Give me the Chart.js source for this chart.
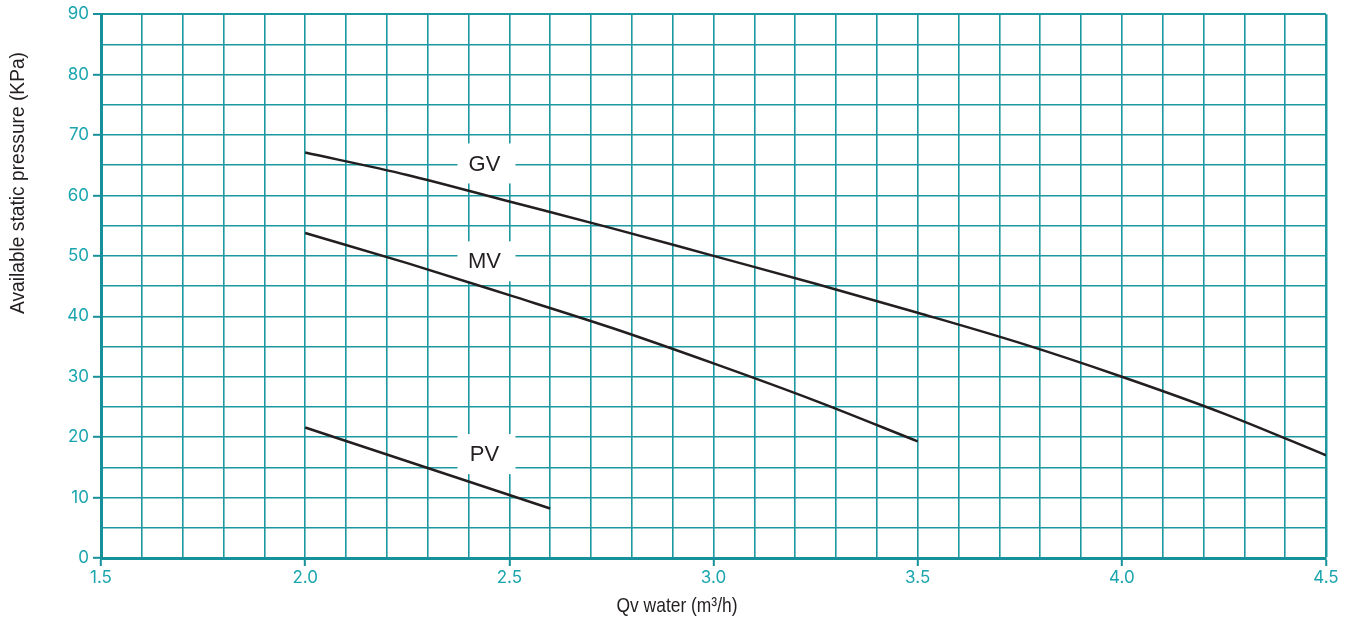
<!DOCTYPE html>
<html>
<head>
<meta charset="utf-8">
<script src="https://cdn.jsdelivr.net/npm/chart.js@4.4.1/dist/chart.umd.min.js"></script>
<style>
    html, body { margin: 0; padding: 0; background: #fff; }
    #wrap { width: 1358px; height: 622px; }
</style>
</head>
<body>
<div id="wrap"><canvas id="pump-chart"></canvas></div>
<script>
// flow (m3/h) and available static pressure (kPa)
const gvFlow = [2.0, 2.25, 2.5, 2.75, 3.0, 3.25, 3.5, 3.75, 4.0, 4.25, 4.5];
const gvPressure = [67.1, 63.4, 59.0, 54.6, 50.0, 45.4, 40.6, 35.6, 30.0, 23.9, 17.0];
const mvFlow = [2.0, 2.25, 2.5, 2.75, 3.0, 3.25, 3.5];
const mvPressure = [53.8, 48.8, 43.5, 38.1, 32.2, 26.0, 19.3];
const pvFlow = [2.0, 2.3, 2.6];
const pvPressure = [21.6, 14.9, 8.2];

const curveNames = ['GV', 'MV', 'PV'];
const nameFlow = [2.444, 2.444, 2.444];
const namePressure = [65.3, 49.1, 17.2];

const xTitle = 'Qv water (m\u00b3/h)';
const yTitle = 'Available static pressure (KPa)';

const gridColor = '#1b98a0';
const axisColor = '#16909a';
const tickText = '#1aa5ae';
const curveColor = '#231f20';

function toPoints(xs, ys) {
    return xs.map((x, i) => ({ x: x, y: ys[i] }));
}

function isMajor(v, step) {
    const r = v / step;
    return Math.abs(r - Math.round(r)) < 1e-6;
}

const curveLabels = {
    id: 'curveLabels',
    beforeDatasetsDraw(chart) {
        const ctx = chart.ctx;
        const xs = chart.scales.x, ys = chart.scales.y;
        ctx.save();
        ctx.font = '22px "Liberation Sans", Arial, sans-serif';
        ctx.textAlign = 'center';
        ctx.textBaseline = 'middle';
        curveNames.forEach((name, i) => {
            const px = xs.getPixelForValue(nameFlow[i]);
            const py = ys.getPixelForValue(namePressure[i]);
            ctx.fillStyle = '#fff';
            ctx.fillRect(px - 29, py - 20, 58, 40);
            ctx.fillStyle = curveColor;
            ctx.fillText(name, px - 2, py + 1);
        });
        ctx.restore();
    }
};

// condensed look: squeeze the text to the width it has in the original
function narrowText(ctx, text, cx, cy, width) {
    const w = ctx.measureText(text).width;
    ctx.save();
    ctx.translate(cx, cy);
    ctx.scale(width / w, 1);
    ctx.fillText(text, 0, 0);
    ctx.restore();
}

const axisTitles = {
    id: 'axisTitles',
    afterDraw(chart) {
        const ctx = chart.ctx;
        ctx.save();
        ctx.fillStyle = curveColor;
        ctx.font = '21px "Liberation Sans", Arial, sans-serif';
        ctx.textAlign = 'center';
        ctx.textBaseline = 'middle';
        narrowText(ctx, xTitle, 677, 606, 121);
        ctx.translate(18, 183);
        ctx.rotate(-Math.PI / 2);
        narrowText(ctx, yTitle, 0, 0, 262);
        ctx.restore();
    }
};

new Chart(document.getElementById('pump-chart'), {
    type: 'line',
    data: {
        datasets: [
            { label: 'GV', data: toPoints(gvFlow, gvPressure) },
            { label: 'MV', data: toPoints(mvFlow, mvPressure) },
            { label: 'PV', data: toPoints(pvFlow, pvPressure) }
        ]
    },
    options: {
        responsive: true,
        maintainAspectRatio: false,
        animation: false,
        layout: { padding: { left: 0, right: 32, top: 14, bottom: 0 } },
        elements: {
            line: { borderColor: curveColor, borderWidth: 2.5, cubicInterpolationMode: 'monotone', fill: false },
            point: { radius: 0, hoverRadius: 0 }
        },
        plugins: {
            legend: { display: false },
            tooltip: { enabled: false }
        },
        scales: {
            x: {
                type: 'linear',
                min: 1.5,
                max: 4.5,
                afterFit: (scale) => { scale.height = 64; },
                border: { color: axisColor, width: 3 },
                grid: {
                    color: gridColor,
                    lineWidth: (c) => (c.tick && c.tick.value > 4.45) ? 2.5 : 1.6,
                    tickLength: 8,
                    tickWidth: 2,
                    tickColor: (c) => (c.tick && isMajor(c.tick.value, 0.5)) ? axisColor : 'rgba(0,0,0,0)'
                },
                ticks: {
                    stepSize: 0.1,
                    autoSkip: false,
                    maxRotation: 0,
                    padding: 2,
                    color: tickText,
                    font: { family: 'Inter, "Liberation Sans", sans-serif', size: 17 },
                    callback: (v) => isMajor(v, 0.5) ? Number(v).toFixed(1) : ''
                }
            },
            y: {
                min: 0,
                max: 90,
                afterFit: (scale) => { scale.width = 101; },
                border: { color: axisColor, width: 3 },
                grid: {
                    color: gridColor,
                    lineWidth: (c) => (c.tick && c.tick.value === 90) ? 2 : 1.6,
                    tickLength: 8,
                    tickWidth: 2,
                    tickColor: (c) => (c.tick && isMajor(c.tick.value, 10)) ? axisColor : 'rgba(0,0,0,0)'
                },
                ticks: {
                    stepSize: 5,
                    autoSkip: false,
                    padding: 4,
                    color: tickText,
                    font: { family: 'Inter, "Liberation Sans", sans-serif', size: 17 },
                    callback: (v) => isMajor(v, 10) ? String(v) : ''
                }
            }
        }
    },
    plugins: [curveLabels, axisTitles]
});
</script>
</body>
</html>
